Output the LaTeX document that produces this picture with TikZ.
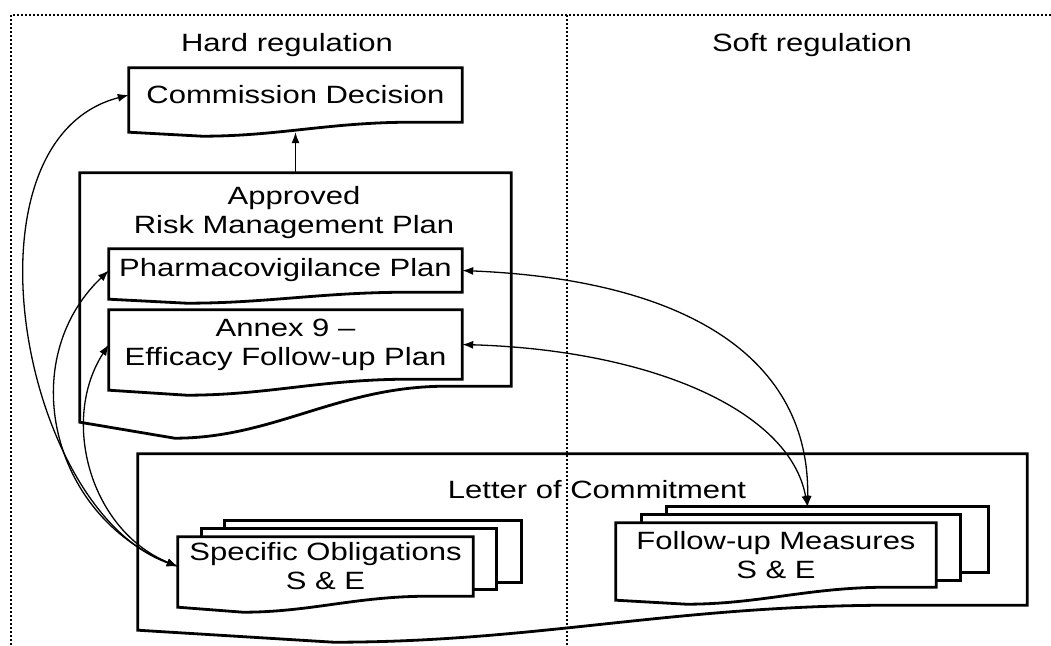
\documentclass[tikz,border=0pt]{standalone}
\usepackage{fontspec}
\setmainfont{Liberation Sans}[FakeStretch=1.24]
\usetikzlibrary{calc,arrows.meta,backgrounds}

% document outline round a node: #3 = drop of the left corner, #4 = depth of the wave
\newcommand{\docshape}[4][]{%
  \draw[box,#1] (#2.south east) -- (#2.north east) -- (#2.north west)
    -- ($(#2.south west)+(0,#3)$)
    -- ($(#2.south west)!0.22!(#2.south east)+(0,#4)$)
    .. controls ($(#2.south west)!0.45!(#2.south east)+(0,#4)$)
    and ($(#2.south west)!0.6!(#2.south east)$)
    .. ($(#2.south west)!0.85!(#2.south east)$) -- cycle;}

\begin{document}
\begin{tikzpicture}
  [x=1pt,y=-1pt,
   every node/.style={font=\fontsize{25}{29}\selectfont,inner sep=0pt,align=center},
   box/.style={line width=2.8pt,line join=miter},
   arr/.style={-{Latex[length=11pt,width=8pt]},line width=1.3pt},
   conn/.style={{Latex[length=11pt,width=8pt]}-{Latex[length=11pt,width=8pt]},line width=1.3pt},
   frame/.style={line width=2.6pt,dash pattern=on 2pt off 2pt}]
  \useasboundingbox (0,0) rectangle (1051,645);

  \node (hard) at (287,45) {Hard regulation};
  \node (soft) at (812,45) {Soft regulation};

  \node[minimum width=333pt,minimum height=54pt] (cd) at (295.5,95) {Commission Decision};
  \node[minimum width=431pt,minimum height=213pt] (rmp) at (295.5,279.5) {};
  \node (rmptext) at (294,213) {Approved\\Risk Management Plan};
  \node[minimum width=353pt,minimum height=43pt] (pv) at (285.5,270.5) {Pharmacovigilance Plan};
  \node[minimum width=353pt,minimum height=69pt] (annex) at (285.5,344.5) {Annex 9 --\\Efficacy Follow-up Plan};

  \node[minimum width=889pt,minimum height=151pt] (loc) at (582.5,529.5) {};
  \node (loctext) at (597,490) {Letter of Commitment};

  \node[minimum width=296pt,minimum height=61pt] (so3) at (373,551.5) {};
  \node[minimum width=294pt,minimum height=60pt] (so2) at (349,559) {};
  \node[minimum width=295pt,minimum height=59pt] (so) at (325.5,566.5) {Specific Obligations\\S \& E};

  \node[minimum width=321pt,minimum height=65pt] (fm3) at (827.5,539.5) {};
  \node[minimum width=318pt,minimum height=65pt] (fm2) at (801,547.5) {};
  \node[minimum width=320pt,minimum height=64pt] (fm) at (776,555) {Follow-up Measures\\S \& E};

  \begin{scope}[on background layer]
    \draw[frame] (11,645) -- (11,15) -- (1051,15);
    \draw[frame] (567,15) -- (567,645);
    \docshape{cd}{10}{14}
    \docshape{rmp}{36}{52}
    \docshape{pv}{7}{11}
    \docshape{annex}{11}{16}
    \docshape{loc}{25}{37}
    \foreach \card in {so3,so2,fm3,fm2}
      \draw[box,fill=white] (\card.north west) rectangle (\card.south east);
    \docshape[fill=white]{so}{11}{16}
    \docshape[fill=white]{fm}{13}{17}
  \end{scope}

  \draw[arr] (rmp.north) -- ([yshift=-10pt]cd.south);
  \draw[conn] (so.west) .. controls (20,510) and (-45,140) .. (cd.west);
  \draw[conn] (so.west) .. controls (50,515) and (15,360) .. (pv.west);
  \draw[conn] (so.west) .. controls (90,530) and (60,420) .. (annex.west);
  \draw[conn] (pv.east) .. controls (690,280) and (810,360) .. ([xshift=-20pt]fm3.north);
  \draw[conn] (annex.east) .. controls (650,350) and (790,410) .. ([xshift=-20pt]fm3.north);
\end{tikzpicture}
\end{document}
